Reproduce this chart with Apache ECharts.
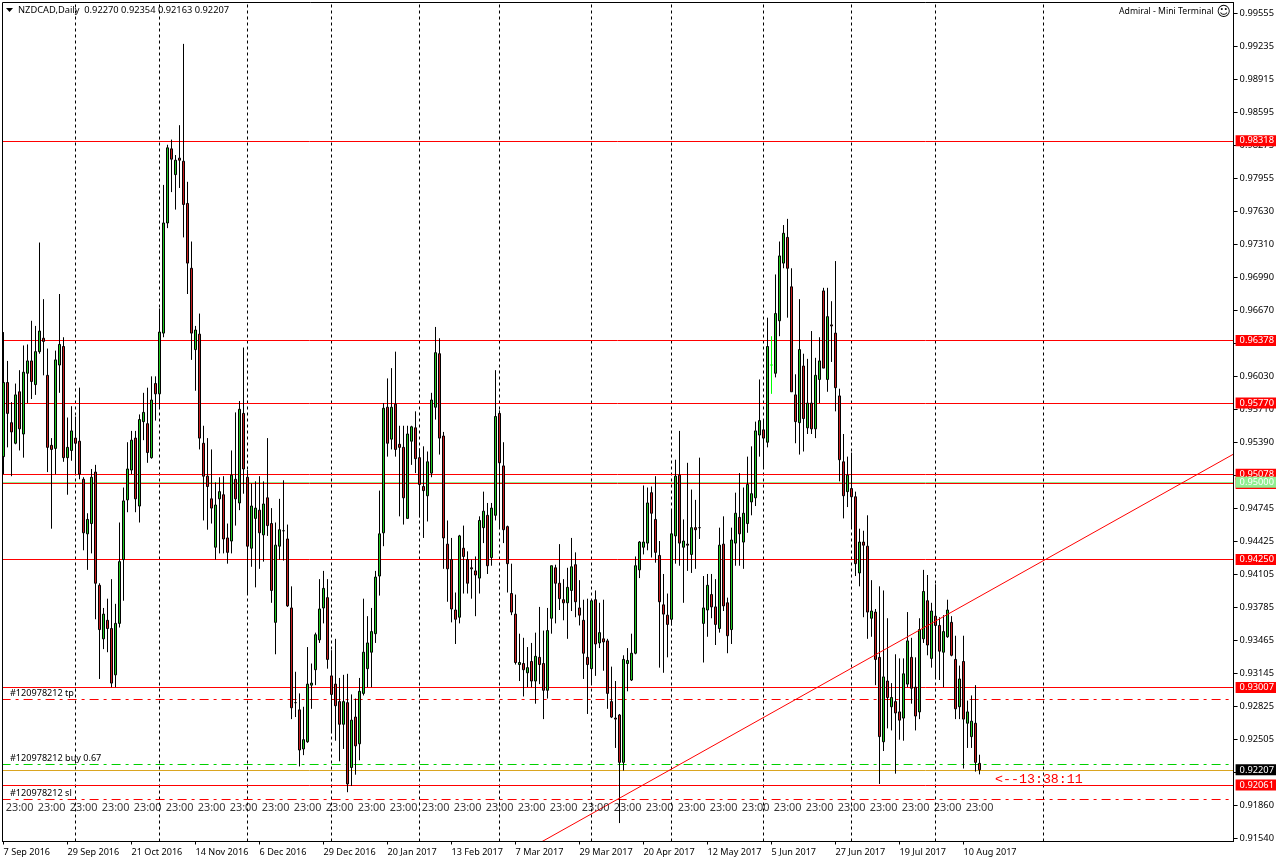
<!DOCTYPE html>
<html><head><meta charset="utf-8">
<style>html,body{margin:0;padding:0;background:#fff}#c{width:1276px;height:862px}</style>
<script src="https://cdn.jsdelivr.net/npm/echarts@6/dist/echarts.min.js"></script>
</head><body><div id="c"></div>
<script>
// Prices in pips (price x 10000), one entry per daily bar.
const opens=[9525,9597,9558,9538,9588,9547,9606,9618,9595,9627,
9640,9604,9536,9533,9614,9632,9524,9531,9543,9540,
9503,9450,9460,9510,9400,9348,9366,9358,9313,9363,
9425,9483,9512,9543,9477,9559,9557,9524,9596,9586,
9645,9752,9824,9799,9815,9812,9771,9708,9629,9644,
9538,9506,9484,9437,9484,9488,9446,9443,9503,9480,
9567,9505,9436,9465,9473,9449,9485,9460,9364,9438,
9453,9445,9378,9286,9279,9241,9248,9303,9318,9347,
9378,9388,9312,9304,9287,9265,9286,9223,9272,9246,
9295,9319,9335,9353,9409,9451,9573,9542,9576,9537,
9534,9465,9540,9553,9524,9496,9487,9509,9573,9625,
9545,9440,9425,9376,9369,9436,9425,9417,9414,9407,
9456,9468,9427,9468,9567,9516,9457,9392,9372,9323,
9324,9315,9326,9307,9330,9324,9298,9368,9417,9402,
9386,9383,9395,9420,9378,9366,9330,9319,9386,9344,
9348,9346,9287,9271,9274,9228,9324,9308,9334,9415,
9437,9441,9490,9464,9429,9381,9371,9367,9448,9507,
9437,9440,9430,9456,9456,9363,9376,9391,9379,9358,
9440,9383,9357,9441,9466,9442,9460,9481,9485,9546,
9551,9539,9614,9606,9657,9713,9738,9690,9585,9558,
9613,9553,9577,9552,9600,9686,9600,9653,9645,9584,
9520,9491,9494,9486,9412,9442,9438,9368,9374,9330,
9248,9307,9282,9287,9277,9271,9304,9330,9301,9277,
9348,9385,9329,9370,9361,9335,9350,9364,9328,9282,
9326,9266,9253,9266,9227];
const highs=[9646,9618,9578,9596,9609,9633,9634,9657,9652,9733,
9678,9630,9543,9628,9683,9641,9563,9574,9564,9592,
9505,9470,9513,9517,9402,9378,9387,9406,9382,9461,
9495,9539,9550,9550,9566,9587,9592,9603,9603,9669,
9789,9828,9833,9818,9847,9926,9792,9734,9652,9664,
9555,9543,9532,9500,9505,9506,9460,9531,9568,9579,
9631,9512,9499,9501,9506,9501,9543,9475,9461,9484,
9502,9459,9399,9316,9295,9282,9340,9324,9354,9406,
9414,9406,9337,9348,9310,9313,9314,9294,9290,9310,
9387,9370,9378,9414,9492,9577,9601,9611,9627,9555,
9555,9555,9555,9569,9533,9535,9530,9587,9651,9640,
9549,9463,9446,9393,9449,9458,9433,9425,9428,9467,
9491,9480,9480,9609,9570,9539,9458,9421,9391,9353,
9349,9340,9344,9354,9379,9356,9378,9419,9420,9440,
9406,9417,9446,9432,9405,9386,9387,9386,9395,9383,
9386,9348,9321,9307,9275,9332,9339,9353,9428,9443,
9497,9495,9496,9506,9443,9411,9392,9473,9522,9550,
9464,9519,9493,9483,9524,9409,9411,9411,9406,9456,
9467,9388,9456,9490,9509,9495,9525,9535,9559,9600,
9560,9660,9642,9702,9734,9750,9756,9708,9605,9678,
9625,9620,9647,9621,9641,9689,9689,9676,9715,9591,
9547,9525,9529,9491,9455,9453,9468,9405,9377,9399,
9395,9368,9305,9333,9329,9329,9374,9349,9330,9368,
9415,9410,9383,9401,9369,9371,9386,9370,9351,9322,
9351,9288,9293,9303,9235.4];
const lows=[9508,9534,9506,9537,9531,9524,9577,9581,9585,9625,
9604,9510,9455,9508,9587,9520,9488,9521,9508,9503,
9434,9415,9431,9367,9309,9338,9335,9301,9301,9359,
9385,9471,9508,9471,9461,9541,9519,9523,9560,9573,
9641,9747,9782,9765,9786,9738,9683,9619,9589,9532,
9463,9454,9460,9425,9431,9431,9421,9431,9458,9473,
9489,9392,9418,9398,9416,9423,9448,9383,9333,9425,
9424,9379,9270,9272,9224,9235,9247,9280,9303,9344,
9363,9319,9258,9249,9229,9241,9199,9205,9216,9230,
9293,9301,9301,9344,9390,9438,9525,9532,9525,9467,
9459,9465,9517,9509,9466,9446,9462,9505,9561,9527,
9416,9384,9364,9343,9363,9392,9392,9387,9370,9392,
9441,9411,9419,9463,9456,9441,9393,9371,9323,9307,
9292,9301,9301,9285,9304,9270,9290,9353,9363,9376,
9366,9348,9375,9369,9361,9309,9275,9304,9312,9339,
9317,9280,9271,9242,9169,9220,9297,9307,9333,9407,
9430,9434,9427,9422,9320,9315,9330,9361,9421,9419,
9383,9414,9412,9416,9445,9325,9350,9368,9342,9354,
9375,9334,9343,9419,9419,9416,9451,9468,9477,9525,
9514,9534,9586,9602,9642,9708,9660,9588,9538,9527,
9530,9547,9547,9543,9577,9611,9588,9617,9569,9501,
9465,9476,9456,9409,9399,9369,9348,9350,9303,9207,
9239,9261,9259,9217,9250,9249,9301,9285,9259,9270,
9344,9332,9320,9310,9308,9301,9349,9331,9270,9270,
9222,9242,9242,9219,9216.3];
const closes=[9597,9567,9549,9585,9552,9607,9618,9598,9627,9647,
9637,9534,9532,9619,9634,9524,9534,9550,9538,9508,
9451,9464,9505,9402,9357,9372,9358,9305,9363,9423,
9482,9513,9541,9484,9561,9568,9529,9580,9586,9646,
9752,9825,9814,9813,9813,9770,9713,9645,9648,9543,
9506,9496,9475,9478,9491,9445,9432,9507,9484,9571,
9513,9438,9477,9475,9451,9479,9458,9395,9439,9454,
9453,9380,9281,9286,9240,9250,9304,9305,9352,9377,
9397,9328,9294,9283,9265,9287,9207,9269,9244,9297,
9335,9344,9355,9408,9450,9572,9538,9573,9532,9534,
9485,9547,9554,9523,9498,9492,9520,9580,9626,9543,
9446,9416,9377,9367,9448,9428,9402,9416,9410,9463,
9472,9419,9475,9564,9519,9454,9421,9374,9325,9325,
9318,9320,9307,9331,9323,9298,9356,9419,9402,9387,
9383,9398,9418,9384,9371,9334,9323,9385,9343,9354,
9345,9295,9272,9270,9228,9328,9327,9334,9419,9442,
9442,9480,9470,9432,9384,9372,9362,9450,9506,9441,
9443,9439,9456,9454,9456,9378,9400,9379,9362,9439,
9380,9351,9444,9470,9450,9470,9498,9489,9550,9560,
9543,9632,9614,9664,9720,9742,9708,9588,9559,9629,
9562,9577,9552,9604,9618,9611,9661,9652,9592,9522,
9487,9507,9486,9421,9442,9439,9374,9375,9328,9253,
9311,9291,9291,9276,9269,9314,9346,9300,9273,9357,
9394,9342,9375,9361,9336,9355,9376,9332,9280,9309,
9270,9277,9268,9228,9220.7];
const dateLabels=["7 Sep 2016","29 Sep 2016","21 Oct 2016","14 Nov 2016","6 Dec 2016","29 Dec 2016","20 Jan 2017","13 Feb 2017","7 Mar 2017","29 Mar 2017","20 Apr 2017","12 May 2017","5 Jun 2017","27 Jun 2017","19 Jul 2017","10 Aug 2017"];
const priceTicks=[0.99555,0.99235,0.98915,0.98595,0.98275,0.97955,0.97630,0.97310,0.96990,0.96670,0.96350,0.96030,0.95710,0.95390,0.95070,0.94745,0.94425,0.94105,0.93785,0.93465,0.93145,0.92825,0.92505,0.92185,0.91860,0.91540];
const monthStartBars=[18,39,61,82,104,124,147,167,190,212,233,260];
const redLevels=[0.98318,0.96378,0.95770,0.95078,0.94990,0.94250,0.93007,0.92061];
const greenLevel=0.95000, bidLevel=0.92207;
const orderLevels=[{v:0.92891,c:'#ff0000'},{v:0.92259,c:'#00d000'},{v:0.91919,c:'#ff0000'}];
const trendBars=[134,307.5], trendPrices=[0.91497,0.95275];
const sessionPrice=0.91841, brightDojiBar=192, totalSlots=308;

const cats=Array.from({length:totalSlots},(_,i)=>String(i));
const FONT='"Noto Sans"', FS=9.1;
const candle=opens.map((o,i)=>{
  const it={value:[o/1e4,closes[i]/1e4,lows[i]/1e4,highs[i]/1e4]};
  if(i===brightDojiBar) it.itemStyle={borderColor:'#00ff00',borderColor0:'#00ff00',borderColorDoji:'#00ff00'};
  return it;
});
const levelLabel=(bg,fg)=>({show:true,position:'end',distance:2,formatter:p=>p.value.toFixed(5),
  backgroundColor:bg,color:fg,fontFamily:FONT,fontSize:9.3,padding:[2,4,0,4],lineHeight:9});
const lines=[];
monthStartBars.forEach(b=>lines.push({xAxis:b,label:{show:false},lineStyle:{color:'#000',type:[3,3],width:1}}));
redLevels.forEach(v=>lines.push({yAxis:v,lineStyle:{color:'#ff0000',type:'solid',width:1},label:levelLabel('#ff0000','#fff')}));
lines.push({yAxis:greenLevel,lineStyle:{color:'#90ee90',type:'solid',width:1},label:levelLabel('#90ee90','#fff')});
lines.push({yAxis:bidLevel,lineStyle:{color:'#daa520',type:'solid',width:1},label:levelLabel('#000','#fff')});
orderLevels.forEach(o=>lines.push({yAxis:o.v,label:{show:false},lineStyle:{color:o.c,type:[9,5,3,5],width:1}}));

const txt=(x,y,t,extra)=>({type:'text',z:100,silent:true,x,y,style:Object.assign({text:t,fill:'#000',font:FS+'px '+FONT,textAlign:'left',textVerticalAlign:'middle'},extra||{})});
const chart=echarts.init(document.getElementById('c'),null,{renderer:'canvas'});
chart.setOption({
  animation:false,backgroundColor:'#fff',
  grid:{left:1.6,top:2.5,width:1232,height:839,containLabel:false,outerBoundsMode:'none'},
  xAxis:[{type:'category',data:cats,boundaryGap:true,
    axisLine:{show:true,onZero:false,lineStyle:{color:'#000',width:1}},
    axisTick:{show:true,alignWithLabel:true,length:3,interval:i=>i%16===0&&i<=240,lineStyle:{color:'#000'}},
    axisLabel:{show:true,interval:i=>i%16===0&&i<=240,hideOverlap:false,formatter:(v,i)=>dateLabels[i/16],align:'left',margin:6,
      color:'#000',fontFamily:FONT,fontSize:FS},
    splitLine:{show:false}},
    {type:'value',min:-0.5,max:307.5,show:false}],
  yAxis:{type:'value',position:'right',min:0.91511,max:0.99662,scale:true,
    axisLine:{show:true,onZero:false,lineStyle:{color:'#000',width:1}},
    axisTick:{show:true,length:4,customValues:priceTicks,lineStyle:{color:'#000'}},
    axisLabel:{show:true,customValues:priceTicks,margin:6,color:'#000',fontFamily:FONT,fontSize:9.3,padding:[2,0,0,0],formatter:v=>v.toFixed(5)},
    splitLine:{show:false}},
  series:[
    {type:'candlestick',name:'NZDCAD',data:candle,barWidth:3,z:2,large:false,progressive:0,clip:false,
     itemStyle:{color:'#1fc71f',color0:'#c81e1e',borderColor:'#000',borderColor0:'#000',borderColorDoji:'#000',borderWidth:1},
     markLine:{silent:true,symbol:'none',z:1,animation:false,precision:5,data:lines}},
    {type:'line',name:'trend',xAxisIndex:1,data:trendBars.map((b,i)=>[b,trendPrices[i]]),symbol:'none',silent:true,z:3,
     lineStyle:{color:'#ff0000',width:1}},
    {type:'scatter',name:'sessions',silent:true,z:3,symbolSize:1,itemStyle:{color:'rgba(0,0,0,0)'},
     data:Array.from({length:31},(_,k)=>[4+8*k,sessionPrice]),
     label:{show:true,position:'inside',formatter:'23:00',color:'#000',fontFamily:FONT,fontSize:10.9}}
  ],
  graphic:[
    {type:'rect',z:90,silent:true,shape:{x:0,y:0,width:2,height:862},style:{fill:'#fff'}},
    {type:'rect',z:91,silent:true,shape:{x:2.5,y:2.5,width:1231,height:839},style:{fill:'none',stroke:'#000',lineWidth:1}},
    {type:'polygon',z:100,silent:true,shape:{points:[[6,8],[13,8],[9.5,12]]},style:{fill:'#000'}},
    txt(18,10.5,'NZDCAD,Daily  0.92270 0.92354 0.92163 0.92207',{font:'9.3px '+FONT}),
    txt(1119,11.5,'Admiral - Mini Terminal',{font:'8.7px '+FONT}),
    txt(1216.5,12.5,'\u263A',{font:'14px "DejaVu Sans"'}),
    txt(10,693.5,'#120978212 tp'),
    txt(10,758.5,'#120978212 buy 0.67'),
    txt(10,793.5,'#120978212 sl'),
    txt(995,779.5,'<--13:38:11',{fill:'#ff0000',font:'13.3px "Liberation Mono"'})
  ]
});
</script></body></html>
